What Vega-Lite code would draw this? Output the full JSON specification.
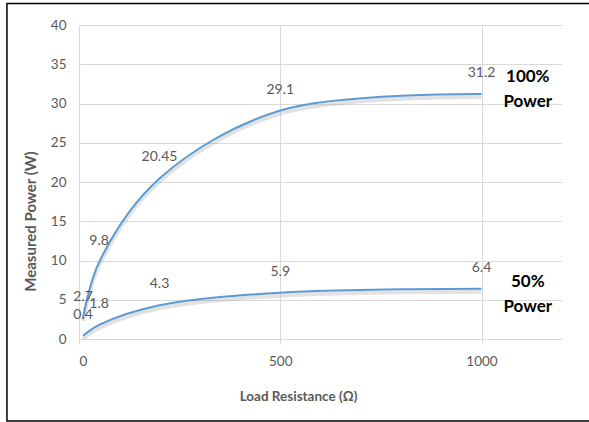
{
  "$schema": "https://vega.github.io/schema/vega-lite/v6.json",
  "width": 483,
  "height": 314,
  "autosize": {"type": "none"},
  "padding": {"left": 79, "top": 25, "right": 27, "bottom": 83},
  "background": "white",
  "config": {
    "view": {"stroke": null},
    "font": "Lato"
  },
  "datasets": {
    "pts": [
      {"R": 10, "P": 2.7, "series": "100%"},
      {"R": 50, "P": 9.8, "series": "100%"},
      {"R": 200, "P": 20.45, "series": "100%"},
      {"R": 500, "P": 29.1, "series": "100%"},
      {"R": 1000, "P": 31.2, "series": "100%"},
      {"R": 10, "P": 0.4, "series": "50%"},
      {"R": 50, "P": 1.8, "series": "50%"},
      {"R": 200, "P": 4.3, "series": "50%"},
      {"R": 500, "P": 5.9, "series": "50%"},
      {"R": 1000, "P": 6.4, "series": "50%"}
    ],
    "notes": [
      {"R": 1115, "P": 33.4, "t": "100%"},
      {"R": 1115, "P": 30.2, "t": "Power"},
      {"R": 1115, "P": 7.26, "t": "50%"},
      {"R": 1115, "P": 4.08, "t": "Power"}
    ],
    "frame": [
      {"R": -179, "R2": 1300, "P": -10.45, "P2": 42.74}
    ]
  },
  "encoding": {
    "x": {"field": "R", "type": "quantitative", "scale": {"domain": [0, 1200], "nice": false},
      "axis": {"values": [0, 500, 1000], "format": "d", "grid": true, "gridColor": "#d9d9d9", "domain": false, "ticks": true, "tickColor": "#d9d9d9", "tickSize": 5, "labelPadding": 10, "labelColor": "#595959", "labelFont": "Lato", "labelFontSize": 13.5,
        "title": "Load Resistance (Ω)", "titleColor": "#595959", "titleFont": "Lato", "titleFontSize": 13.5, "titleFontWeight": "bold", "titleX": 219, "titleY": 57, "titleBaseline": "middle", "titleAlign": "center"}},
    "y": {"field": "P", "type": "quantitative", "scale": {"domain": [0, 40], "nice": false},
      "axis": {"values": [0, 5, 10, 15, 20, 25, 30, 35, 40], "labelOverlap": false, "grid": true, "gridColor": "#d9d9d9", "domain": false, "ticks": false, "labelPadding": 13, "labelColor": "#595959", "labelFont": "Lato", "labelFontSize": 13.5,
        "title": "Measured Power (W)", "titleColor": "#595959", "titleFont": "Lato", "titleFontSize": 15, "titleFontWeight": "bold", "titleX": -49, "titleY": 196, "titleBaseline": "middle", "titleAlign": "center"}}
  },
  "layer": [
    {
      "data": {"name": "pts"},
      "mark": {"type": "line", "interpolate": "catmull-rom", "color": "#a0a0a0", "opacity": 0.3, "strokeWidth": 4, "yOffset": 3},
      "encoding": {"detail": {"field": "series"}}
    },
    {
      "data": {"name": "pts"},
      "mark": {"type": "line", "interpolate": "catmull-rom", "color": "#5b9bd5", "strokeWidth": 2},
      "encoding": {"detail": {"field": "series"}}
    },
    {
      "data": {"name": "pts"},
      "mark": {"type": "text", "font": "Lato", "fontSize": 14, "color": "#595959", "baseline": "middle", "align": "center", "dy": -21},
      "encoding": {"text": {"field": "P", "type": "nominal"}}
    },
    {
      "data": {"name": "notes"},
      "mark": {"type": "text", "font": "Lato", "fontSize": 17, "fontWeight": "bold", "color": "#000000", "baseline": "middle", "align": "center"},
      "encoding": {"text": {"field": "t", "type": "nominal"}}
    },
    {
      "data": {"name": "frame"},
      "mark": {"type": "rect", "fill": null, "stroke": "#000000", "strokeWidth": 1.5, "clip": false},
      "encoding": {
        "x2": {"field": "R2"},
        "y2": {"field": "P2"}
      }
    }
  ]
}
